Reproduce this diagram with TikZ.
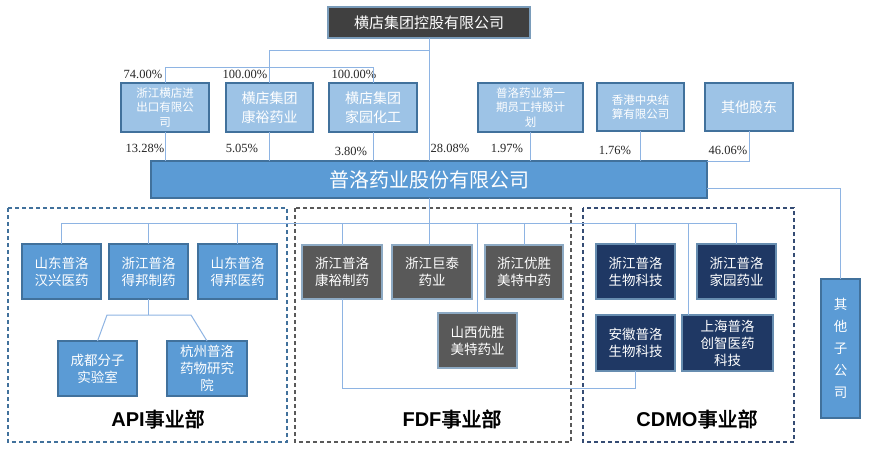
\documentclass[tikz,border=0pt]{standalone}
\usepackage{fontspec}
\setmainfont{Liberation Serif}
\newfontfamily\cjk[AutoFakeBold=2.5]{Noto Sans CJK SC}
\newfontfamily\lsans{Liberation Sans}
\definecolor{lblue}{HTML}{9DC3E6}
\definecolor{mblue}{HTML}{5B9BD5}
\definecolor{bord}{HTML}{41719C}
\definecolor{dgray}{HTML}{595959}
\definecolor{tgray}{HTML}{404040}
\definecolor{navy}{HTML}{1F3864}
\definecolor{conn}{HTML}{8EB4E3}
\newcommand\bx[7]{\node[#6, minimum width={(#4-#2)*1pt}, minimum height={(#5-#3)*1pt}] (#1) at ({(#2+#4)/2},{(#3+#5)/2}) {#7};}
\tikzset{
  box/.style={draw=bord, line width=1.2pt, inner sep=0pt, outer sep=0pt, align=center, text=white, font=\cjk\fontsize{13.5}{17}\selectfont},
  topbox/.style={box, fill=tgray, draw=bord!70, font=\cjk\fontsize{15}{18}\selectfont},
  lbbox/.style={box, fill=lblue},
  sm/.style={font=\cjk\fontsize{11.5}{14.5}\selectfont},
  md/.style={font=\cjk\fontsize{14}{19}\selectfont},
  mainbox/.style={box, fill=mblue, font=\cjk\fontsize{20}{22}\selectfont},
  apibox/.style={box, fill=mblue},
  fdfbox/.style={box, fill=dgray, draw=bord!60},
  cdmobox/.style={box, fill=navy, draw=bord!80},
  pct/.style={inner sep=0pt, text=black!85, font=\fontsize{12.5}{14}\selectfont},
  ln/.style={draw=conn, line width=1pt},
  dbox/.style={line width=1.2pt, dash pattern=on 4pt off 3pt},
  deplabel/.style={inner sep=0pt, text=black, font=\fontsize{20}{22}\selectfont}
}
\begin{document}
\begin{tikzpicture}[x=1pt,y=-1pt]
\useasboundingbox[fill=white] (0,0) rectangle (869,453);
% dashed department frames
\draw[dbox, draw=bord] (8,208) rectangle (287,442);
\draw[dbox, draw=dgray] (295,208) rectangle (571,442);
\draw[dbox, draw=navy!90] (583,208) rectangle (794,442);
% nodes
\bx{top}{328}{7}{530}{38}{topbox}{横店集团控股有限公司}
\bx{e1}{121}{83}{209}{132}{lbbox,sm}{浙江横店进\\出口有限公\\司}
\bx{e2}{226}{83}{313}{132}{lbbox,md}{横店集团\\康裕药业}
\bx{e3}{329}{83}{417}{132}{lbbox,md}{横店集团\\家园化工}
\bx{e4}{478}{83}{583}{132}{lbbox,sm}{普洛药业第一\\期员工持股计\\划}
\bx{e5}{597}{83}{684}{131}{lbbox,sm}{香港中央结\\算有限公司}
\bx{e6}{705}{83}{793}{131}{lbbox,md}{其他股东}
\bx{main}{151}{161}{707}{198}{mainbox}{普洛药业股份有限公司}
\bx{o}{821}{279}{860}{418}{apibox, font=\cjk\fontsize{13.5}{22}\selectfont}{其\\他\\子\\公\\司}
\bx{a1}{22}{244}{101}{299}{apibox}{山东普洛\\汉兴医药}
\bx{a2}{109}{244}{188}{299}{apibox}{浙江普洛\\得邦制药}
\bx{a3}{198}{244}{277}{299}{apibox}{山东普洛\\得邦医药}
\bx{a4}{58}{341}{137}{396}{apibox}{成都分子\\实验室}
\bx{a5}{167}{341}{247}{396}{apibox}{杭州普洛\\药物研究\\院}
\bx{f1}{302}{245}{382}{299}{fdfbox}{浙江普洛\\康裕制药}
\bx{f2}{392}{245}{472}{299}{fdfbox}{浙江巨泰\\药业}
\bx{f3}{485}{245}{563}{299}{fdfbox}{浙江优胜\\美特中药}
\bx{f4}{438}{313}{517}{368}{fdfbox}{山西优胜\\美特药业}
\bx{c1}{596}{244}{675}{299}{cdmobox}{浙江普洛\\生物科技}
\bx{c2}{697}{244}{776}{299}{cdmobox}{浙江普洛\\家园药业}
\bx{c3}{596}{315}{675}{371}{cdmobox}{安徽普洛\\生物科技}
\bx{c4}{682}{315}{773}{371}{cdmobox}{上海普洛\\创智医药\\科技}
% percentages
\node[pct] (p1) at (143,74) {74.00\%};
\node[pct] (p2) at (245,74) {100.00\%};
\node[pct] (p3) at (354,74) {100.00\%};
\node[pct] (p4) at (145,148) {13.28\%};
\node[pct] (p5) at (242,148) {5.05\%};
\node[pct] (p6) at (351,151) {3.80\%};
\node[pct] (p7) at (450,148) {28.08\%};
\node[pct] (p8) at (507,148) {1.97\%};
\node[pct] (p9) at (615,150) {1.76\%};
\node[pct] (p10) at (728,150) {46.06\%};
% department labels
\node[deplabel] (lapi) at (158,419) {{\lsans\bfseries API}{\cjk\bfseries 事业部}};
\node[deplabel] (lfdf) at (452,419) {{\lsans\bfseries FDF}{\cjk\bfseries 事业部}};
\node[deplabel] (lcdmo) at (697,419) {{\lsans\bfseries CDMO}{\cjk\bfseries 事业部}};
% coordinates
\coordinate (j1) at (269.5,50);
\coordinate (j2) at (0,67);
\coordinate (k) at (840.5,188);
\coordinate (bus) at (0,223);
\coordinate (sl) at (107,315);
\coordinate (sr) at (191,315);
\coordinate (lo) at (0,388);
% connectors
\draw[ln] (top.south) -- (top.south |- main.north);
\draw[ln] (top.south |- j1) -- (j1) -- (e2.north);
\draw[ln] (e1.north) -- (e1.north |- j2) -- (e3.north |- j2) -- (e3.north);
\foreach \n in {e1,e2,e3,e4,e5} \draw[ln] (\n.south) -- (\n.south |- main.north);
\draw[ln] (e6.south) -- (e6.south |- main.north) -- (main.north east);
\draw[ln] (main.east |- k) -- (k) -- (o.north);
\draw[ln] (top.south |- main.south) -- (top.south |- f2.north);
\draw[ln] (a1.north |- bus) -- (c2.north |- bus);
\foreach \n in {a1,a2,a3,f1,f3,f4,c1,c2} \draw[ln] (\n.north |- bus) -- (\n.north);
\draw[ln] ([xshift=6pt]c4.north west |- bus) -- ([xshift=6pt]c4.north west);
\draw[ln] (a2.south) -- (a2.south |- sl);
\draw[ln] (a4.north) -- (sl) -- (sr) -- (a5.north);
\draw[ln] (f1.south) -- (f1.south |- lo) -- (c3.south |- lo) -- (c3.south);
\end{tikzpicture}
\end{document}
